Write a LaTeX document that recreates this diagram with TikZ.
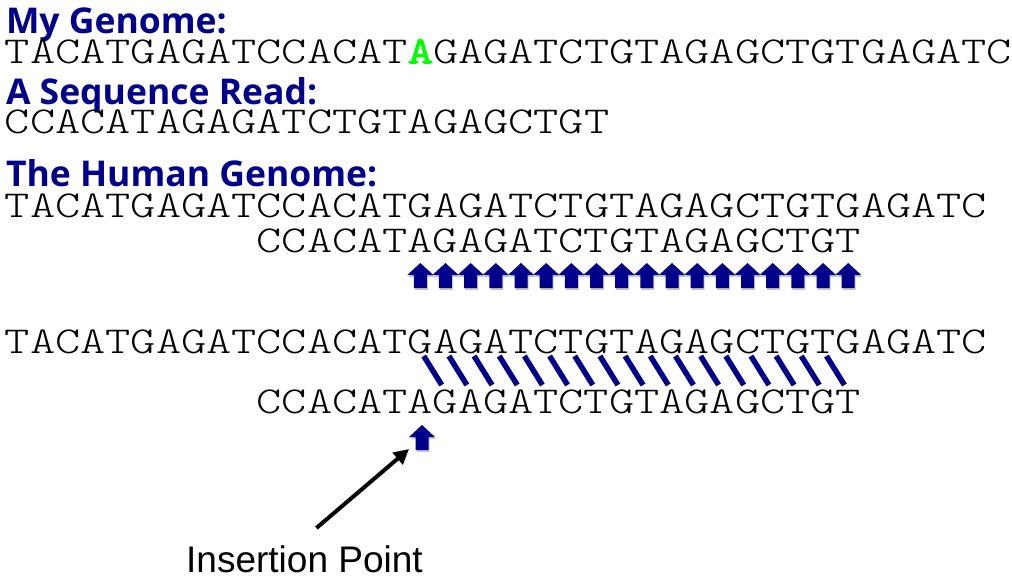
\documentclass[tikz,border=0pt]{standalone}
\usepackage{fontspec}
\usetikzlibrary{arrows.meta}
\newfontfamily\seqfont[FakeStretch=1.262]{Latin Modern Mono Light}
\newfontfamily\seqbold[FakeStretch=1.262,FakeBold=4]{Latin Modern Mono Light}
\newfontfamily\headfont{Open Sans}
\newfontfamily\labfont{Liberation Sans}
\definecolor{navy}{RGB}{0,0,139}
\definecolor{brightgreen}{RGB}{0,255,0}
\tikzset{
  head/.style={anchor=base west, inner sep=0pt, outer sep=0pt, text=navy,
    font=\headfont\bfseries\fontsize{35.5}{36}\selectfont},
  seq/.style={anchor=base west, inner sep=0pt, outer sep=0pt,
    font=\seqfont\fontsize{38}{38}\selectfont},
  slash/.style={navy, line width=5.5pt},
  blockup/.pic={
    \fill[black!22] (-12,2) -- (1,-10) -- (14,2) -- (7.5,2) -- (7.5,15) -- (-5.5,15) -- (-5.5,2) -- cycle;
    \fill[navy] (-13,0) -- (0,-12) -- (13,0) -- (6.5,0) -- (6.5,13) -- (-6.5,13) -- (-6.5,0) -- cycle;
  }
}
\begin{document}
\begin{tikzpicture}[x=1pt,y=-1pt]
\useasboundingbox (0,0) rectangle (1012,582);
\def\cw{25.17}
% section 1
\node[head] (h1) at (6,33) {My Genome:};
\node[seq] (g1) at (5,63) {TACATGAGATCCACAT\textcolor{brightgreen}{\seqbold A}GAGATCTGTAGAGCTGTGAGATC};
\node[head] (h2) at (6,104) {A Sequence Read:};
\node[seq] (r1) at (5,133) {CCACATAGAGATCTGTAGAGCTGT};
% section 2
\node[head] (h3) at (6,186) {The Human Genome:};
\node[seq] (g2) at (5,217) {TACATGAGATCCACATGAGATCTGTAGAGCTGTGAGATC};
\node[seq] (r2) at ({5+10*\cw},252) {CCACATAGAGATCTGTAGAGCTGT};
\foreach \k in {16,...,33} {
  \pic at ({5+\k*\cw+12.6},275) {blockup};
}
% section 3
\node[seq] (g3) at (5,353) {TACATGAGATCCACATGAGATCTGTAGAGCTGTGAGATC};
\node[seq] (r3) at ({5+10*\cw},413) {CCACATAGAGATCTGTAGAGCTGT};
\foreach \i in {16,...,32} {
  \draw[slash] ({5+\i*\cw+16},356) -- ({5+\i*\cw+34},385);
}
\pic at (422,437) {blockup};
\coordinate (tip) at (409,449);
\node[anchor=base west, inner sep=0pt, font=\labfont\fontsize{37}{37}\selectfont] (lbl) at (186,572) {Insertion Point};
\coordinate (tail) at ([shift={(12,-17)}]lbl.north);
\draw[line width=4pt, -{Triangle[length=15pt,width=15pt]}] (tail) -- (tip);
\end{tikzpicture}
\end{document}
